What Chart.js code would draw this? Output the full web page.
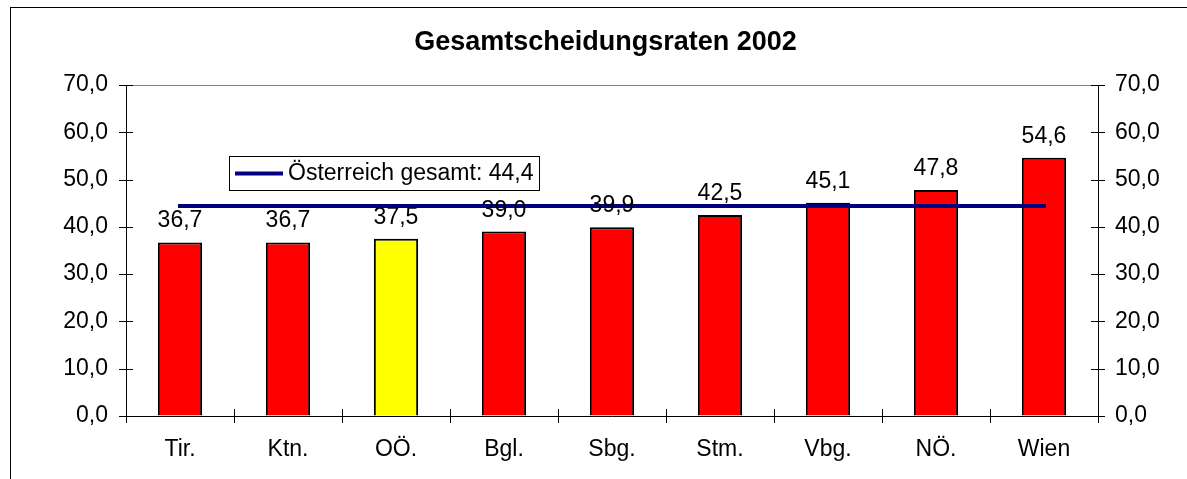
<!DOCTYPE html>
<html>
<head>
<meta charset="utf-8">
<script src="https://cdn.jsdelivr.net/npm/chart.js@4/dist/chart.umd.min.js"></script>
<style>
  html, body { margin: 0; padding: 0; background: #fff; }
  canvas { display: block; }
</style>
</head>
<body>
<canvas id="chart" width="1187" height="479"></canvas>
<script>
// data
const regions = ['Tir.', 'Ktn.', 'OÖ.', 'Bgl.', 'Sbg.', 'Stm.', 'Vbg.', 'NÖ.', 'Wien'];
const rates = [36.7, 36.7, 37.5, 39.0, 39.9, 42.5, 45.1, 47.8, 54.6];
const austriaTotal = [44.4, 44.4, 44.4, 44.4, 44.4, 44.4, 44.4, 44.4, 44.4];
const barColors = ['#FF0000', '#FF0000', '#FFFF00', '#FF0000', '#FF0000', '#FF0000', '#FF0000', '#FF0000', '#FF0000'];
const yMin = 0, yMax = 70, yStep = 10;

const FONT = 'Arial, "Liberation Sans", sans-serif';
const fmt = v => Number(v).toFixed(1).replace('.', ',');

const decorPlugin = {
    id: 'decor',
    afterDatasetsDraw(chart) {
        const ctx = chart.ctx;
        const meta = chart.getDatasetMeta(0);
        ctx.save();
        ctx.fillStyle = '#000';
        ctx.font = '23px ' + FONT;
        ctx.textAlign = 'center';
        ctx.textBaseline = 'alphabetic';
        meta.data.forEach((bar, i) => {
            ctx.fillText(fmt(rates[i]), bar.x, bar.y - 15);
        });
        ctx.restore();
    },
    afterDraw(chart) {
        const ctx = chart.ctx;
        const area = chart.chartArea;
        const x = chart.scales.x;
        const y = chart.scales.y;
        ctx.save();

        // outer frame (right and bottom edges lie outside the picture)
        ctx.strokeStyle = '#000';
        ctx.lineWidth = 1;
        ctx.strokeRect(10.5, 7.5, 1220, 520);

        // top edge of plot area
        ctx.strokeStyle = '#808080';
        ctx.beginPath();
        ctx.moveTo(area.left, area.top + 0.5);
        ctx.lineTo(area.right, area.top + 0.5);
        ctx.stroke();

        // tick marks crossing the axes
        ctx.strokeStyle = '#000';
        ctx.beginPath();
        for (let v = yMin; v <= yMax; v += yStep) {
            const py = Math.round(y.getPixelForValue(v)) + 0.5;
            ctx.moveTo(area.left - 7, py);
            ctx.lineTo(area.left + 7, py);
            ctx.moveTo(area.right - 7, py);
            ctx.lineTo(area.right + 7, py);
        }
        for (let i = 0; i <= regions.length; i++) {
            const px = Math.round(x.getPixelForValue(i - 0.5)) + 0.5;
            ctx.moveTo(px, area.bottom - 7);
            ctx.lineTo(px, area.bottom + 7);
        }
        ctx.stroke();

        // legend box
        const lx = 229, ly = 156, lw = 310, lh = 34;
        ctx.fillStyle = '#fff';
        ctx.fillRect(lx, ly, lw, lh);
        ctx.strokeStyle = '#000';
        ctx.strokeRect(lx + 0.5, ly + 0.5, lw, lh);
        ctx.strokeStyle = '#000080';
        ctx.lineWidth = 4;
        ctx.beginPath();
        ctx.moveTo(235, ly + lh / 2 + 0.5);
        ctx.lineTo(283, ly + lh / 2 + 0.5);
        ctx.stroke();
        ctx.fillStyle = '#000';
        ctx.font = '23px ' + FONT;
        ctx.textAlign = 'left';
        ctx.textBaseline = 'middle';
        ctx.fillText(chart.data.datasets[1].label, 288, ly + lh / 2 + 1);

        ctx.restore();
    }
};

const yScale = (position, width, pad) => ({
    type: 'linear',
    position: position,
    min: yMin,
    max: yMax,
    grid: { drawOnChartArea: false, drawTicks: false },
    border: { display: true, color: '#000', width: 1 },
    ticks: {
        stepSize: yStep,
        padding: pad,
        color: '#000',
        font: { family: FONT, size: 23 },
        callback: v => fmt(v)
    },
    afterFit: scale => { scale.width = width; }
});

new Chart(document.getElementById('chart'), {
    type: 'bar',
    data: {
        labels: regions,
        datasets: [
            {
                type: 'bar',
                label: 'Gesamtscheidungsrate',
                data: rates,
                backgroundColor: barColors,
                borderColor: '#000',
                borderWidth: 2,
                categoryPercentage: 1.0,
                barPercentage: 0.41,
                yAxisID: 'y',
                order: 2
            },
            {
                type: 'line',
                label: 'Österreich gesamt: 44,4',
                data: austriaTotal,
                borderColor: '#000080',
                borderWidth: 4,
                borderCapStyle: 'square',
                pointRadius: 0,
                fill: false,
                yAxisID: 'y',
                order: 1
            }
        ]
    },
    options: {
        responsive: false,
        animation: false,
        devicePixelRatio: 1,
        layout: { padding: { left: 24, right: 0, top: 0, bottom: 0 } },
        plugins: {
            legend: { display: false },
            tooltip: { enabled: false },
            title: {
                display: true,
                text: 'Gesamtscheidungsraten 2002',
                color: '#000',
                font: { family: FONT, size: 27, weight: 'bold', lineHeight: 1.2 },
                padding: { top: 26, bottom: 26.6 }
            }
        },
        scales: {
            x: {
                grid: { display: false, drawTicks: false },
                border: { display: true, color: '#000', width: 1 },
                ticks: {
                    padding: 20,
                    color: '#000',
                    font: { family: FONT, size: 23 }
                },
                afterFit: scale => { scale.height = 63; }
            },
            y: yScale('left', 102, 18),
            y2: yScale('right', 89, 17)
        }
    },
    plugins: [decorPlugin]
});
</script>
</body>
</html>
